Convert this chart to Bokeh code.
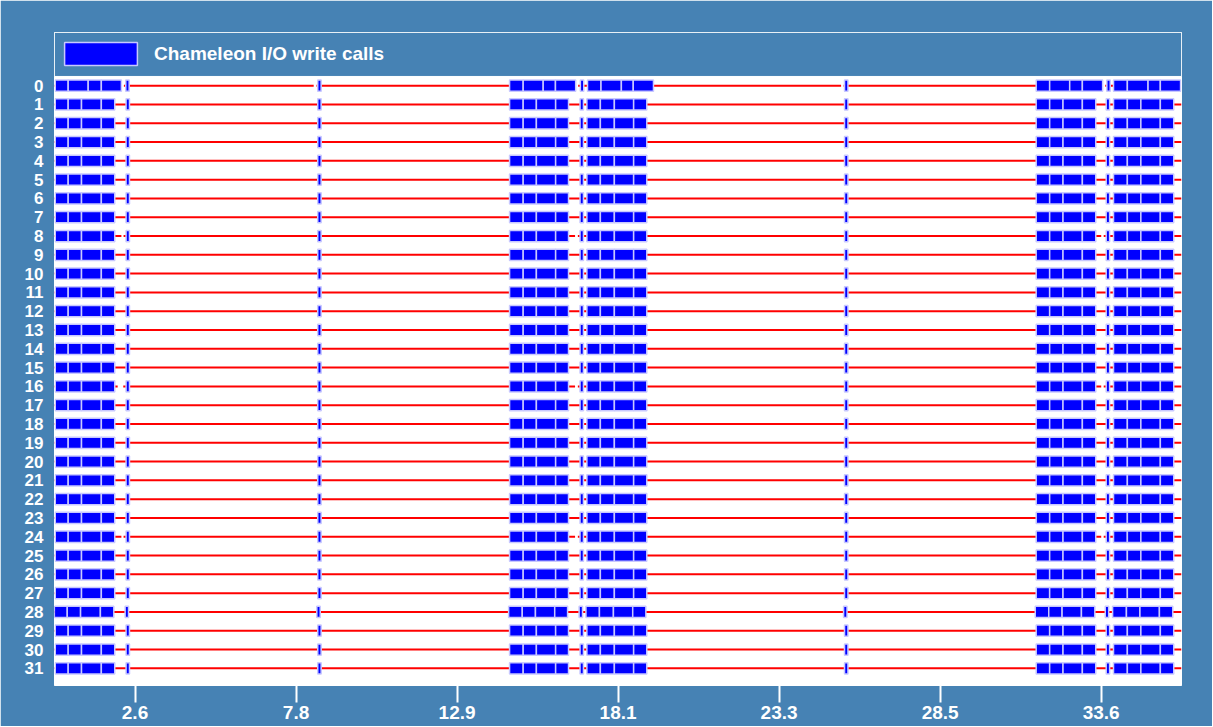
from bokeh.plotting import figure
from bokeh.models import ColumnDataSource, Range1d, FixedTicker, Legend, LegendItem
from bokeh.embed import file_html
from bokeh.resources import INLINE

# ---------------- data ----------------
ranks = list(range(32))

# write calls of a typical rank (seconds)
call_start = [0.025, 0.44, 0.868, 1.505,
              2.30,
              8.46,
              14.625, 15.063, 15.487, 16.106,
              16.89,
              17.11, 17.543, 17.993, 18.613,
              25.39,
              31.55, 31.983, 32.412, 33.034,
              33.80,
              34.035, 34.48, 34.914, 35.54]
call_end = [0.44, 0.868, 1.505, 1.936,
            2.41,
            8.57,
            15.063, 15.487, 16.106, 16.52,
            17.00,
            17.543, 17.993, 18.613, 19.035,
            25.50,
            31.983, 32.412, 33.034, 33.465,
            33.91,
            34.48, 34.914, 35.54, 35.97]

# write calls of rank 0 (longer 2nd and 4th blocks)
rank0_call_start = [0.025, 0.44, 1.083, 1.505,
                    2.29,
                    8.46,
                    14.625, 15.063, 15.706, 16.10,
                    16.90,
                    17.13, 17.564, 18.218, 18.60,
                    25.39,
                    31.55, 31.983, 32.627, 33.034,
                    33.82,
                    34.035, 34.48, 35.145, 35.54]
rank0_call_end = [0.44, 1.083, 1.505, 2.15,
                  2.40,
                  8.57,
                  15.063, 15.706, 16.10, 16.75,
                  17.01,
                  17.564, 18.218, 18.60, 19.25,
                  25.50,
                  31.983, 32.627, 33.034, 33.685,
                  33.93,
                  34.48, 35.145, 35.54, 36.19]

# small clock offset of one rank
row_shift = {28: -0.03}

# idle gaps in the red timeline
gap_rank = [0, 0, 0, 0, 0, 0, 8, 8, 8, 16, 16, 16, 24, 24, 24]
gap_start = [2.15, 8.33, 16.75, 25.28, 33.685, 36.19,
             2.15, 16.73, 33.64,
             2.03, 16.73, 33.64,
             2.15, 16.73, 33.64]
gap_end = [2.23, 8.42, 16.83, 25.36, 33.77, 36.22,
           2.22, 16.82, 33.72,
           2.21, 16.82, 33.72,
           2.22, 16.82, 33.72]

t_min, t_max = 0.0, 36.22
x_tick_values = [2.5875, 7.7625, 12.9375, 18.1125, 23.2875, 28.4625, 33.6375]
x_tick_labels = ["2.6", "7.8", "12.9", "18.1", "23.3", "28.5", "33.6"]
legend_label = "Chameleon I/O write calls"

# ---------------- build sources ----------------
bl, br, bt, bb = [], [], [], []
for r in ranks:
    if r == 0:
        s_list, e_list = rank0_call_start, rank0_call_end
    else:
        s_list, e_list = call_start, call_end
    sh = row_shift.get(r, 0.0)
    for s, e in zip(s_list, e_list):
        bl.append(s + sh)
        br.append(e + sh)
        bt.append(r - 0.3)
        bb.append(r + 0.3)
blocks = ColumnDataSource(dict(left=bl, right=br, top=bt, bottom=bb))

sx0, sx1, sy = [], [], []
for r in ranks:
    gaps = sorted((gs, ge) for gr, gs, ge in zip(gap_rank, gap_start, gap_end) if gr == r)
    cur = t_min
    for gs, ge in gaps:
        sx0.append(cur); sx1.append(gs); sy.append(r)
        cur = ge
    if cur < t_max:
        sx0.append(cur); sx1.append(t_max); sy.append(r)
lines = ColumnDataSource(dict(x0=sx0, x1=sx1, y=sy))

# ---------------- figure ----------------
BG = "#4682b4"
FONT = "Liberation Sans"

p = figure(width=1212, height=726,
           x_range=Range1d(t_min, t_max), y_range=Range1d(31.914, -2.828),
           output_backend="svg", toolbar_location=None,
           min_border_left=54, min_border_right=31, min_border_top=32, min_border_bottom=41,
           background_fill_color="white", border_fill_color=BG,
           outline_line_color="white", outline_line_width=1)
p.grid.visible = False

# legend band at top of the frame
p.quad(left=[t_min], right=[t_max], top=[-2.828], bottom=[-0.489],
       fill_color=BG, line_color="white", line_width=1)

p.segment(x0="x0", x1="x1", y0="y", y1="y", source=lines,
          line_color="#ff0000", line_width=2)
blocks_r = p.quad(left="left", right="right", top="top", bottom="bottom", source=blocks,
                  fill_color="#0000ff", line_color="#c8c8ff", line_width=1.5)

legend = Legend(items=[LegendItem(label=legend_label, renderers=[blocks_r])],
                location=(0, 616), margin=0, padding=1,
                glyph_width=91, glyph_height=29, label_standoff=8, label_height=29,
                label_text_font=FONT, label_text_font_style="bold",
                label_text_font_size="19px", label_text_color="white",
                background_fill_alpha=0, border_line_alpha=0)
p.add_layout(legend)

xa = p.xaxis[0]
xa.ticker = FixedTicker(ticks=x_tick_values)
xa.major_label_overrides = {v: l for v, l in zip(x_tick_values, x_tick_labels)}
xa.axis_line_color = None
xa.major_tick_line_color = "white"
xa.major_tick_line_width = 2
xa.major_tick_in = 0
xa.major_tick_out = 17
xa.minor_tick_line_color = None
xa.major_label_text_color = "white"
xa.major_label_text_font = FONT
xa.major_label_text_font_style = "bold"
xa.major_label_text_font_size = "19px"
xa.major_label_standoff = 3

ya = p.yaxis[0]
ya.ticker = FixedTicker(ticks=ranks)
ya.axis_line_color = None
ya.major_tick_line_color = None
ya.minor_tick_line_color = None
ya.major_label_text_color = "white"
ya.major_label_text_font = FONT
ya.major_label_text_font_style = "bold"
ya.major_label_text_font_size = "17px"
ya.major_label_standoff = 5

open("out.html", "w").write(file_html(p, INLINE))
